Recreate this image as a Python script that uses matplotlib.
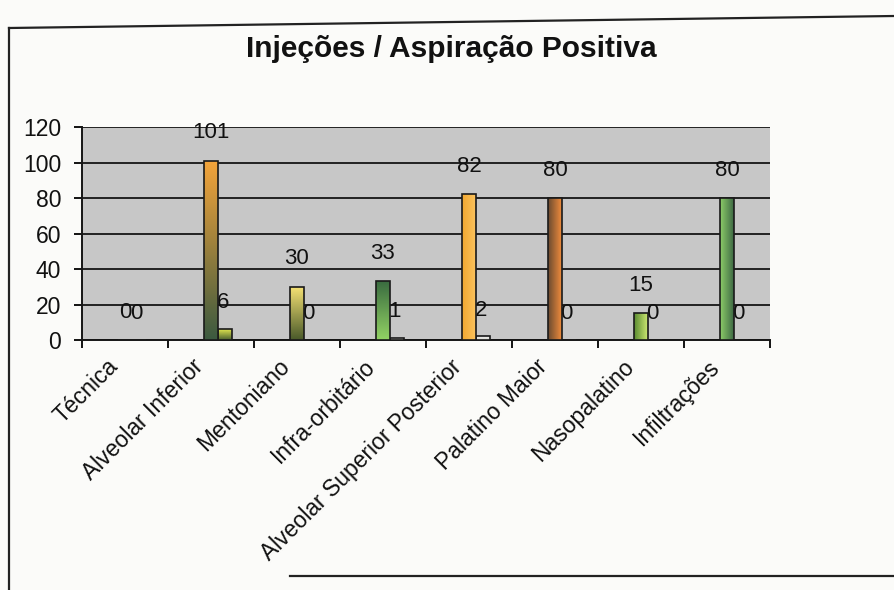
import matplotlib
matplotlib.use("Agg")
import matplotlib.pyplot as plt
import numpy as np
from matplotlib.colors import LinearSegmentedColormap
from matplotlib.lines import Line2D
from matplotlib.transforms import ScaledTranslation, blended_transform_factory

# data
categories = ["Técnica", "Alveolar Inferior", "Mentoniano", "Infra-orbitário",
              "Alveolar Superior Posterior", "Palatino Maior", "Nasopalatino",
              "Infiltrações"]
injecoes = [0, 101, 30, 33, 82, 80, 15, 80]
aspiracao_positiva = [0, 6, 0, 1, 2, 0, 0, 0]
y_ticks = [0, 20, 40, 60, 80, 100, 120]
title = "Injeções / Aspiração Positiva"

# gradient fills per bar: (start colour, end colour, horizontal?)
fills_1 = [
    ("#c8c8c8", "#c8c8c8", False),
    ("#3c5a40", "#f4a43a", False),
    ("#4a5a2a", "#f6e274", False),
    ("#92d264", "#3a6c40", False),
    ("#f2a830", "#fcc35e", True),
    ("#6a4a30", "#f08c3c", True),
    ("#5a8a30", "#cce872", True),
    ("#8ccc68", "#3e6a44", True),
]
fills_2 = [
    ("#c8c8c8", "#c8c8c8", False),
    ("#4a6030", "#dfe44e", False),
    ("#c8c8c8", "#c8c8c8", False),
    ("#d8d8d0", "#e6e6de", False),
    ("#dcdcd4", "#ececec", False),
    ("#c8c8c8", "#c8c8c8", False),
    ("#c8c8c8", "#c8c8c8", False),
    ("#c8c8c8", "#c8c8c8", False),
]

font = "Liberation Sans"


def gradient_fill(ax, patch, c0, c1, horizontal):
    h = patch.get_height()
    if h <= 0:
        return
    x, y, w = patch.get_x(), patch.get_y(), patch.get_width()
    cmap = LinearSegmentedColormap.from_list("g", [c0, c1])
    ramp = np.linspace(0, 1, 64)
    arr = ramp.reshape(1, -1) if horizontal else ramp.reshape(-1, 1)
    im = ax.imshow(arr, cmap=cmap, extent=[x, x + w, y, y + h], origin="lower",
                   aspect="auto", interpolation="bilinear", zorder=patch.get_zorder() - 0.05)
    im.set_clip_path(patch)


fig = plt.figure(figsize=(8.94, 5.90), dpi=100)
fig.patch.set_facecolor("#fbfbf9")

ax = fig.add_axes([0.0917, 0.4237, 0.7695, 0.361])
ax.set_facecolor("#c7c7c7")

x = np.arange(len(categories))
bw = 0.16

bars2 = ax.bar(x + bw, aspiracao_positiva, bw, facecolor="none",
               edgecolor="#1a1a1a", linewidth=1.2, zorder=3)
bars1 = ax.bar(x, injecoes, bw, facecolor="none",
               edgecolor="#1a1a1a", linewidth=1.2, zorder=5)

for b, (c0, c1, hz) in zip(bars1, fills_1):
    gradient_fill(ax, b, c0, c1, hz)
for b, (c0, c1, hz) in zip(bars2, fills_2):
    gradient_fill(ax, b, c0, c1, hz)

# value labels; series 2 labels sit behind the series 1 bars like in the scan
for xi, v in zip(x, injecoes):
    ax.annotate(str(v), (xi, v), xytext=(0, 20), textcoords="offset points",
                ha="center", va="center", fontsize=16, family=font,
                color="#111111", zorder=6)
for xi, v in zip(x, aspiracao_positiva):
    ax.annotate(str(v), (xi + bw * 0.85, v), xytext=(0, 19), textcoords="offset points",
                ha="center", va="center", fontsize=16, family=font,
                color="#111111", zorder=4)

ax.set_xlim(-0.5, len(categories) - 0.5)
ax.set_ylim(0, 120)
ax.set_yticks(y_ticks)
ax.set_yticklabels([str(t) for t in y_ticks], fontsize=16.5, family=font, color="#111111")
ax.yaxis.grid(True, color="#151515", linewidth=1.3)
ax.set_axisbelow(True)

ax.set_xticks(np.arange(len(categories) + 1) - 0.5)
ax.set_xticklabels([])
ax.tick_params(axis="x", which="major", length=6, width=1.3, direction="out")
ax.tick_params(axis="y", length=6, width=1.3, direction="out", pad=9)

# category labels: top-right corner sits left of and below the category centre
lab_tr = blended_transform_factory(ax.transData, ax.transAxes) + \
    ScaledTranslation(-0.19, -0.15, fig.dpi_scale_trans)
for xi, name in zip(x, categories):
    ax.text(xi, 0, name, transform=lab_tr, rotation=45, rotation_mode="anchor",
            ha="right", va="top", fontsize=16.5, family=font, color="#111111")

for s in ["top", "right"]:
    ax.spines[s].set_visible(False)
for s in ["left", "bottom"]:
    ax.spines[s].set_color("#151515")
    ax.spines[s].set_linewidth(1.4)

fig.text(0.505, 0.917, title, ha="center", va="center", fontsize=21.5,
         fontweight="bold", family=font, color="#111111")

# frame lines of the scanned picture box
W, H = 894, 590
frame = [((9, 9), (H - 28, 0)), ((9, W), (H - 28, H - 16)), ((290, W), (H - 576, H - 576))]
for xs, ys in frame:
    fig.add_artist(Line2D([xs[0] / W, xs[1] / W], [ys[0] / H, ys[1] / H],
                          transform=fig.transFigure, color="#222222", linewidth=1.6))

fig.savefig("out.png", dpi=100, facecolor=fig.get_facecolor())
